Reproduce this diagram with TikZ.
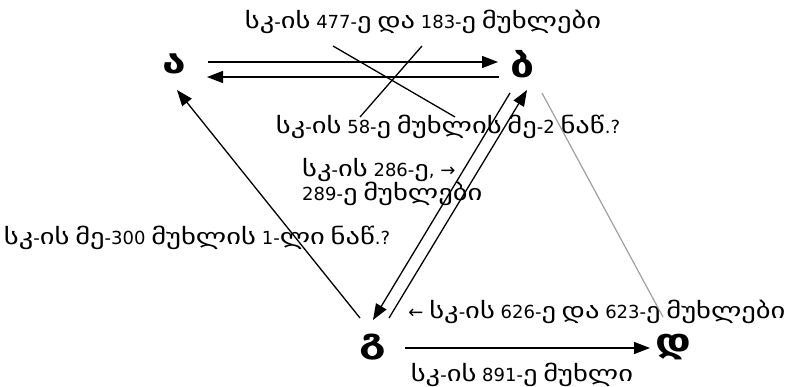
\documentclass[tikz,border=0pt]{standalone}
\usepackage{fontspec}
\setmainfont{DejaVu Sans}
\newfontfamily\geo[Scale=1.22,FakeStretch=1.3]{DejaVu Sans}
\newcommand\ka[1]{{\geo #1}}
\usetikzlibrary{arrows.meta,calc}
\tikzset{
  letter/.style={font=\geo\bfseries\fontsize{27}{27}\selectfont, inner sep=0pt},
  lbl/.style={font=\fontsize{18}{21}\selectfont, inner sep=0pt},
  ln/.style={line width=1.3pt},
  arr/.style={ln, -{Triangle[length=16pt,width=12pt]}},
  grayln/.style={line width=1.2pt, draw={rgb,255:red,160;green,160;blue,160}}
}
\begin{document}
\begin{tikzpicture}[x=1pt,y=-1pt]
\useasboundingbox (0,0) rectangle (794,387);
\node[letter] (A) at (174,64) {ა};
\node[letter] (B) at (523,64) {ბ};
\node[letter] (G) at (373,347) {გ};
\node[letter] (D) at (673,347) {დ};

\node[lbl] (t1) at (423,22) {\ka{სკ}-\ka{ის} 477-\ka{ე} \ka{და} 183-\ka{ე} \ka{მუხლები}};
\node[lbl] (t2) at (448,127) {\ka{სკ}-\ka{ის} 58-\ka{ე} \ka{მუხლის} \ka{მე}-2 \ka{ნაწ}.?};
\node[lbl, align=left, anchor=west] (t3) at (302,182) {\ka{სკ}-\ka{ის} 286-\ka{ე}, →\\289-\ka{ე} \ka{მუხლები}};
\node[lbl] (t4) at (197,238) {\ka{სკ}-\ka{ის} \ka{მე}-300 \ka{მუხლის} 1-\ka{ლი} \ka{ნაწ}.?};
\node[lbl] (t5) at (597,312) {← \ka{სკ}-\ka{ის} 626-\ka{ე} \ka{და} 623-\ka{ე} \ka{მუხლები}};
\node[lbl] (t6) at (522,375) {\ka{სკ}-\ka{ის} 891-\ka{ე} \ka{მუხლი}};

\draw[arr] ($(A)+(34,-2)$) -- ($(B)+(-25,-2)$);
\draw[arr] ($(B)+(-24,13)$) -- ($(A)+(33,13)$);
\draw[arr] ($(G)+(-13,-29)$) -- ($(A)+(3,26)$);
\draw[arr] ($(B)+(-13,29)$) -- ($(G)+(0,-27)$);
\draw[arr] ($(G)+(16,-29)$) -- ($(B)+(4,26)$);
\draw[grayln] ($(B)+(19,29)$) -- ($(D)+(-10,-30)$);
\draw[arr] ($(G)+(32,1)$) -- ($(D)+(-23,1)$);
\draw[ln] ($(t1)+(-90,24)$) -- ($(t2)+(7,-10)$);
\draw[ln] ($(t1)+(-1,24)$) -- ($(t2)+(-88,-10)$);
\end{tikzpicture}
\end{document}
